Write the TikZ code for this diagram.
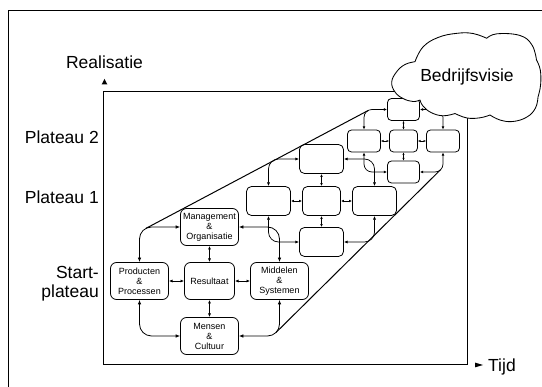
\documentclass[tikz,border=0pt]{standalone}
\usepackage{fontspec}
\setmainfont{Liberation Sans}
\usetikzlibrary{arrows.meta,calc}
\begin{document}
\begin{tikzpicture}[x=1pt,y=-1pt,
  label/.style={font=\fontsize{17.5}{19.5}\selectfont,inner sep=0pt},
  boxbase/.style={draw,line width=0.8pt,inner sep=0pt,align=center,
    font=\fontsize{9}{10}\selectfont},
  boxA/.style={boxbase,rounded corners=6pt,minimum width=58pt,minimum height=37pt},
  boxB/.style={boxbase,rounded corners=5pt,minimum width=44pt,minimum height=29pt},
  boxC/.style={boxbase,rounded corners=4pt,minimum width=33pt,minimum height=22pt},
  loopA/.style={draw,line width=0.8pt,rounded corners=12pt,
    {Latex[length=4.5pt,width=3.6pt]}-{Latex[length=4.5pt,width=3.6pt]}},
  loopB/.style={draw,line width=0.75pt,rounded corners=10pt,
    {Latex[length=3.8pt,width=3.2pt]}-{Latex[length=3.8pt,width=3.2pt]}},
  loopC/.style={draw,line width=0.7pt,rounded corners=8pt,
    {Latex[length=3.2pt,width=2.8pt]}-{Latex[length=3.2pt,width=2.8pt]}},
  linkA/.style={draw,line width=0.7pt,
    {Latex[length=3.6pt,width=3pt]}-{Latex[length=3.6pt,width=3pt]}},
  linkB/.style={draw,line width=0.65pt,
    {Latex[length=3pt,width=2.6pt]}-{Latex[length=3pt,width=2.6pt]}},
  linkC/.style={draw,line width=0.6pt,
    {Latex[length=2.6pt,width=2.3pt]}-{Latex[length=2.6pt,width=2.3pt]}},
  edge/.style={draw,line width=1pt},
  frame/.style={draw,line width=0.9pt}
]
\useasboundingbox (0,0) rectangle (542,387);

% page border (left and top edges)
\draw[frame,line width=0.8pt] (8,387) -- (8,10) -- (542,10);

% axes frame
\draw[frame] (103.5,91.5) rectangle (467,364);
\fill (101.7,84.3) -- (107.3,84.3) -- (104.5,79) -- cycle;
\fill (475,362.6) -- (475,367.4) -- (483,365) -- cycle;

% axis and level labels
\node[label,anchor=base] (yaxis) at (104.5,69) {Realisatie};
\node[label,anchor=base west] (xaxis) at (488,371.7) {Tijd};
\node[label,anchor=base east] (lev2) at (99,143.3) {Plateau 2};
\node[label,anchor=base east] (lev1) at (99,204) {Plateau 1};
\node[label,anchor=base east] (lev0a) at (99,278.3) {Start-};
\node[label,anchor=base east] (lev0b) at (99,297.7) {plateau};

% start plateau
\node[boxA] (man) at (209.5,227) {Management\\\&\\Organisatie};
\node[boxA] (pro) at (139.5,281) {Producten\\\&\\Processen};
\node[boxA,minimum width=50pt] (res) at (209.5,281) {Resultaat};
\node[boxA] (mid) at (279.5,281) {Middelen\\\&\\Systemen};
\node[boxA] (men) at (209.5,336) {Mensen\\\&\\Cultuur};

\draw[loopA] (pro.north) |- (man.west);
\draw[loopA] (man.east) -| (mid.north);
\draw[loopA] (mid.south) |- (men.east);
\draw[loopA] (pro.south) |- (men.west);
\draw[linkA] (man.south) -- (res.north);
\draw[linkA] (res.west) -- (pro.east);
\draw[linkA] (res.east) -- (mid.west);
\draw[linkA] (res.south) -- (men.north);

% plateau 1
\node[boxB] (t1) at (321.5,159) {};
\node[boxB] (l1) at (268.5,201) {};
\node[boxB,minimum width=38pt] (c1) at (321.5,201) {};
\node[boxB] (r1) at (374.5,201) {};
\node[boxB] (b1) at (321.5,242) {};

\draw[loopB] (l1.north) |- (t1.west);
\draw[loopB] (t1.east) -| (r1.north);
\draw[loopB] (r1.south) |- (b1.east);
\draw[loopB] (l1.south) |- (b1.west);
\draw[linkB] (t1.south) -- (c1.north);
\draw[linkB] (c1.west) -- (l1.east);
\draw[linkB] (c1.east) -- (r1.west);
\draw[linkB] (c1.south) -- (b1.north);

% plateau 2
\node[boxC,minimum width=32pt] (t2) at (403.5,109.5) {};
\node[boxC] (l2) at (364,141) {};
\node[boxC,minimum width=28pt] (c2) at (403.5,141) {};
\node[boxC] (r2) at (443,141) {};
\node[boxC,minimum width=32pt] (b2) at (403.5,172) {};

\draw[loopC] (l2.north) |- (t2.west);
\draw[loopC] (t2.east) -| (r2.north);
\draw[loopC] (r2.south) |- (b2.east);
\draw[loopC] (l2.south) |- (b2.west);
\draw[linkC] (t2.south) -- (c2.north);
\draw[linkC] (c2.west) -- (l2.east);
\draw[linkC] (c2.east) -- (r2.west);
\draw[linkC] (c2.south) -- (b2.north);

% envelope joining the plateaus
\coordinate (tl0) at ($(pro.north |- man.west)+(6.4,1.4)$);
\coordinate (tl2) at ($(l2.north |- t2.west)+(4.25,0.95)$);
\coordinate (br0) at ($(mid.south |- men.east)+(-3.5,-3.5)$);
\coordinate (br2) at ($(r2.south |- b2.east)+(-2.35,-2.35)$);
\draw[edge] (tl0) -- (tl2);
\draw[edge] (br0) -- (br2);

% vision cloud, one smooth bump after another
\filldraw[fill=white,line width=0.85pt,line join=round]
  plot[smooth,tension=0.7] coordinates {(420,100) (413,101.5) (403,98.5) (395,92)
      (391.7,82) (396.7,71.7) (405,64.5) (415,61.7)}
  -- plot[smooth,tension=0.7] coordinates {(415,61.7) (423,47) (438,37.5) (457,33.3)
      (473,33.5) (486.7,38.3)}
  -- plot[smooth,tension=0.7] coordinates {(486.7,38.3) (497,33.8) (520,35.5) (532,45)
      (536.5,60)}
  -- plot[smooth,tension=0.7] coordinates {(536.5,60) (540.3,70) (540.6,85) (538,97)}
  -- plot[smooth,tension=0.7] coordinates {(538,97) (535.5,108) (527,117) (513,121.5)
      (500,120) (490,115)}
  -- plot[smooth,tension=0.7] coordinates {(490,115) (480,117.8) (467,118) (455,113.5)}
  -- plot[smooth,tension=0.7] coordinates {(455,113.5) (443,115.8) (431,112.5) (423,106)
      (420,100)}
  -- cycle;
\node[label] (vision) at (467,77) {Bedrijfsvisie};
\end{tikzpicture}
\end{document}
